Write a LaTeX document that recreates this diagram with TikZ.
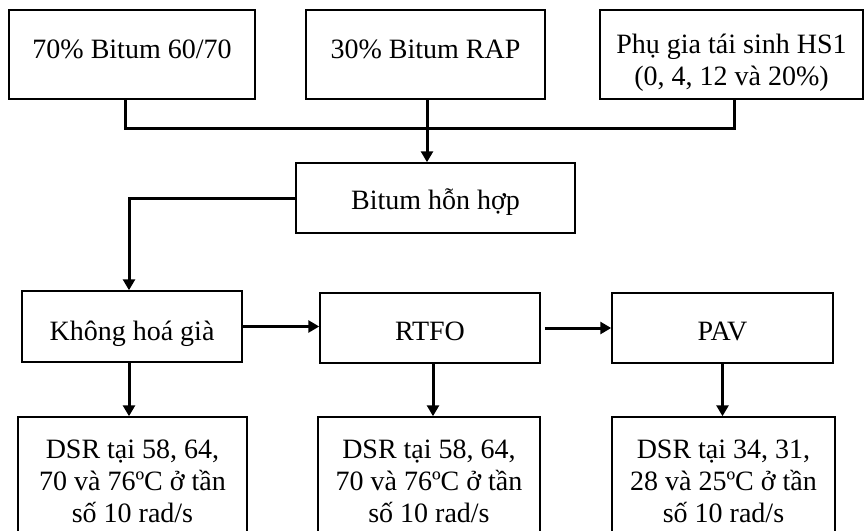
\documentclass[tikz,border=0pt]{standalone}
\usepackage{fontspec}
\setmainfont{Liberation Serif}
\usetikzlibrary{arrows.meta}
\usetikzlibrary{positioning}

\tikzset{
  stage/.style={draw, line width=1.5pt, align=center, inner sep=0pt,
    font=\fontsize{28}{32}\selectfont},
  link/.style={line width=3pt},
  flow/.style={line width=3pt, -{Triangle[length=11pt,width=12pt]}}
}

\begin{document}
\begin{tikzpicture}[x=1pt,y=-1pt]
			\clip (0,0) rectangle (864,530);
			% draw input boxes
			\node[stage, minimum width=246, minimum height=89, text height=7pt, text depth=0pt] (bitum) at (132,54.5) {70\% Bitum 60/70};
			\node[stage, minimum width=239, minimum height=89, text height=7pt, text depth=0pt] (rap) at (425.5,54.5) {30\% Bitum RAP};
			\node[stage, minimum width=263, minimum height=89] (hs1) at (731.5,54.5) {\rule{0pt}{36pt}Phụ gia tái sinh HS1\\(0, 4, 12 và 20\%)};
			\node[stage, minimum width=279, minimum height=70, text height=22pt, text depth=0pt] (mix) at (435.5,198) {Bitum hỗn hợp};
			% draw ageing boxes
			\node[stage, minimum width=220, minimum height=71, text height=28pt, text depth=0pt] (unaged) at (132,326.5) {Không hoá già};
			\node[stage, minimum width=220, minimum height=70, text height=24pt, text depth=0pt] (rtfo) at (430,328) {RTFO};
			\node[stage, minimum width=221, minimum height=70, text height=24pt, text depth=0pt] (pav) at (722.5,328) {PAV};
			% draw test boxes
			\node[stage, minimum width=229, minimum height=128] (dsrA) at (132.5,481) {DSR tại 58, 64,\\70 và 76ºC ở tần\\số 10 rad/s};
			\node[stage, minimum width=222, minimum height=128] (dsrB) at (429,481) {DSR tại 58, 64,\\70 và 76ºC ở tần\\số 10 rad/s};
			\node[stage, minimum width=223, minimum height=128] (dsrC) at (723.5,481) {DSR tại 34, 31,\\28 và 25ºC ở tần\\số 10 rad/s};
			
			% add connectors
			\draw[link] ([xshift=-7pt]bitum.south) -- ++(0,29) -| ([xshift=2.5pt]hs1.south);
			\draw[flow] ([xshift=1.5pt]rap.south) -- ([xshift=1.5pt]rap.south |- mix.north);
			\draw[flow] (mix.west) -| ([xshift=-3pt]unaged.north);
			\draw[flow] (unaged.east) -- (unaged.east -| rtfo.west);
			\draw[flow] ([xshift=4pt]rtfo.east) -- (rtfo.east -| pav.west);
			\draw[flow] ([xshift=-3pt]unaged.south) -- ([xshift=-3pt]unaged.south |- dsrA.north);
			\draw[flow] ([xshift=3pt]rtfo.south) -- ([xshift=3pt]rtfo.south |- dsrB.north);
			\draw[flow] (pav.south) -- (pav.south |- dsrC.north);
		\end{tikzpicture}
\end{document}
